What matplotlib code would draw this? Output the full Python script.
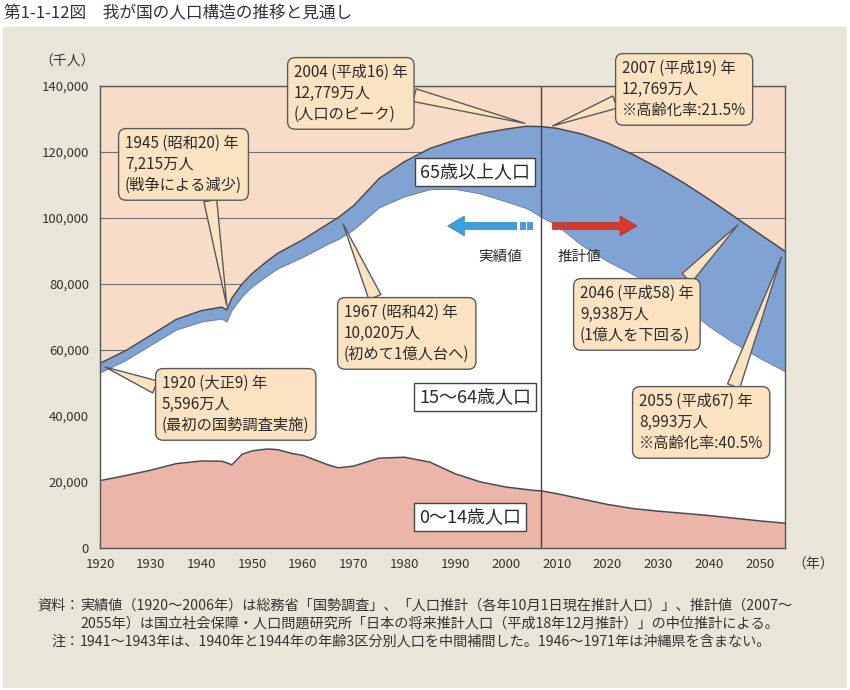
import matplotlib
matplotlib.use("Agg")
import matplotlib.pyplot as plt
from matplotlib.patches import Rectangle, FancyArrow
from matplotlib.ticker import FuncFormatter

plt.rcParams['font.family'] = ['Noto Sans CJK JP', 'DejaVu Sans']

#----------- データ（千人） -----------#
years = [1920, 1925, 1930, 1935, 1940, 1944, 1945, 1946, 1948, 1950,
         1953, 1955, 1958, 1960, 1965, 1967, 1970, 1975, 1980, 1985,
         1990, 1995, 2000, 2004, 2005, 2007, 2010, 2015, 2020, 2025,
         2030, 2035, 2040, 2045, 2046, 2050, 2055]
# 総人口（1946～1971年は沖縄県を含まない）
total = [55963, 59737, 64450, 69254, 71933, 73000, 72147, 75750, 80002, 83200,
         86981, 89276, 91767, 93419, 98275, 100196, 103720, 111940, 117060, 121049,
         123611, 125570, 126926, 127787, 127768, 127692, 127176, 125430, 122735, 119270,
         115224, 110679, 105695, 100443, 99380, 95152, 89930]
# 0～14歳
young = [20416, 21924, 23579, 25545, 26369, 26300, 25800, 25200, 28400, 29428,
         30000, 29798, 28600, 28067, 25166, 24300, 24823, 27221, 27507, 26033,
         22486, 20014, 18472, 17734, 17521, 17293, 16479, 14841, 13201, 11956,
         11150, 10512, 9833, 9036, 8870, 8214, 7516]
# 65歳以上
old = [2941, 3021, 3064, 3225, 3454, 3600, 3700, 3750, 3900, 4109,
       4500, 4747, 5100, 5350, 6181, 6700, 7331, 8865, 10647, 12468,
       14895, 18261, 22005, 24876, 25672, 27464, 29412, 33781, 35899, 36354,
       36670, 37249, 38527, 38407, 38200, 37641, 36463]

work_top = [t - o for t, o in zip(total, old)]

x_ticks = list(range(1920, 2051, 10))
y_ticks = list(range(0, 140001, 20000))

# 吹き出し: 文字, 指す点(年, 千人), 箱の左上(px), 付け根の位置
callouts = [
    ("1945 (昭和20) 年\n7,215万人\n(戦争による減少)", (1945.0, 73300), (118, 128), (0.72, 0.0)),
    ("2004 (平成16) 年\n12,779万人\n(人口のピーク)", (2003.7, 128700), (287, 57), (1.0, 0.5)),
    ("2007 (平成19) 年\n12,769万人\n※高齢化率:21.5%", (2009.2, 127900), (615, 53), (0.0, 0.33)),
    ("1967 (昭和42) 年\n10,020万人\n(初めて1億人台へ)", (1967.9, 98200), (337, 297), (0.27, 1.0)),
    ("1920 (大正9) 年\n5,596万人\n(最初の国勢調査実施)", (1921.0, 54850), (155, 368), (0.0, 0.75)),
    ("2046 (平成58) 年\n9,938万人\n(1億人を下回る)", (2045.7, 97900), (573, 278), (0.88, 1.0)),
    ("2055 (平成67) 年\n8,993万人\n※高齢化率:40.5%", (2054.3, 88200), (632, 386), (0.74, 1.0)),
]

#----------- 色 -----------#
C_BG = '#e9e5d8'
C_PEACH = '#f8dcc7'
C_BLUE = '#80a3d3'
C_PINK = '#ecb5a9'
C_BOX = '#fbe3c2'
C_TXT = '#2b2b2b'

W, H = 850, 690
fig = plt.figure(figsize=(8.5, 6.9), dpi=100, facecolor='white')

def fx(px):
    return px / W

def fy(py):
    return 1 - py / H

# 背景パネル
fig.patches.append(Rectangle((fx(3), fy(688)), fx(847) - fx(3), fy(27) - fy(688),
                             transform=fig.transFigure, facecolor=C_BG,
                             edgecolor='none', zorder=-1))

ax = fig.add_axes([fx(100), fy(548), fx(785) - fx(100), fy(86) - fy(548)])
ax.set_facecolor(C_PEACH)
ax.set_xlim(1920, 2055)
ax.set_ylim(0, 140000)

ax.set_axisbelow(True)
ax.yaxis.grid(True, color='#707070', lw=0.8)

ax.fill_between(years, 0, total, color=C_BLUE, lw=0, zorder=2)
ax.fill_between(years, 0, work_top, color='white', lw=0, zorder=3)
ax.fill_between(years, 0, young, color=C_PINK, lw=0, zorder=4)
ax.plot(years, total, color='#4a4a4a', lw=1.1, zorder=5)
ax.plot(years, young, color='#4a4a4a', lw=1.1, zorder=5)
ax.plot(years, work_top, color='#6a80a8', lw=0.6, zorder=5)

ax.axvline(2007, color='#444444', lw=1, zorder=6)

for s in ax.spines.values():
    s.set_color('#555555')
    s.set_linewidth(1)
    s.set_zorder(6)

ax.set_xticks(x_ticks)
ax.set_yticks(y_ticks)
ax.yaxis.set_major_formatter(FuncFormatter(lambda v, p: '{:,}'.format(int(v))))
ax.tick_params(axis='x', direction='in', length=4, color='#444444',
               labelsize=9.5, labelcolor='#333333', pad=7)
ax.tick_params(axis='y', length=0, labelsize=9.5, labelcolor='#333333', pad=8)

#----------- 実績値 / 推計値 の矢印 -----------#
ya = 97600
ax.add_patch(FancyArrow(2002.1, ya, -13.6, 0, width=2100, head_width=6000,
                        head_length=3.3, length_includes_head=True,
                        fc='#3d9ee0', ec='#3a7fb5', lw=0.5, zorder=7))
for x0 in (2002.7, 2004.1):
    ax.add_patch(Rectangle((x0, ya - 1050), 1.0, 2100, fc='#3d9ee0',
                           ec='#3a7fb5', lw=0.5, zorder=7))
ax.add_patch(FancyArrow(2011.6, ya, 14.2, 0, width=2100, head_width=6000,
                        head_length=3.3, length_includes_head=True,
                        fc='#d93a2c', ec='#a8302a', lw=0.5, zorder=7))
for x0 in (2009.0, 2010.2):
    ax.add_patch(Rectangle((x0, ya - 1050), 1.0, 2100, fc='#d93a2c',
                           ec='#a8302a', lw=0.5, zorder=7))

ax.text(fx(500), fy(257), '実績値', transform=fig.transFigure, ha='center',
        va='center', fontsize=10.5, color=C_TXT, zorder=9)
ax.text(fx(580), fy(257), '推計値', transform=fig.transFigure, ha='center',
        va='center', fontsize=10.5, color=C_TXT, zorder=9)

#----------- 区分ラベル -----------#
lab_box = dict(boxstyle='square,pad=0.3', fc='white', ec='#444444', lw=1)
for txt, cx, cy in [('65歳以上人口', 475, 172), ('15～64歳人口', 475, 397),
                    ('0～14歳人口', 470, 517)]:
    ax.text(fx(cx), fy(cy), txt, transform=fig.transFigure, ha='center',
            va='center', fontsize=13, color=C_TXT, bbox=lab_box, zorder=9)

#----------- 吹き出し -----------#
for txt, xy, bpx, rel in callouts:
    ax.annotate(txt, xy=xy, xycoords='data',
                xytext=(fx(bpx[0] + 7), fy(bpx[1] + 7)), textcoords='figure fraction',
                ha='left', va='top', fontsize=11, linespacing=1.3, color=C_TXT,
                bbox=dict(boxstyle='round,pad=0.42,rounding_size=0.5', fc=C_BOX,
                          ec='#5a5a5a', lw=1),
                arrowprops=dict(arrowstyle='wedge,tail_width=0.85', fc=C_BOX,
                                ec='#5a5a5a', lw=1, relpos=rel,
                                shrinkA=0, shrinkB=0),
                zorder=10, annotation_clip=False)

#----------- 文字 -----------#
fig.text(fx(4), fy(14), '第1-1-12図　我が国の人口構造の推移と見通し',
         ha='left', va='center', fontsize=12, color='#333333')
fig.text(fx(67), fy(62), '（千人）', ha='center', va='center', fontsize=10,
         color='#333333')
fig.text(fx(792), fy(565), '（年）', ha='left', va='center', fontsize=10,
         color='#333333')

note_size = 10.2
fig.text(fx(80), fy(606), '資料：', ha='right', va='center', fontsize=note_size, color='#333333')
fig.text(fx(80), fy(606),
         '実績値（1920～2006年）は総務省「国勢調査」、「人口推計（各年10月1日現在推計人口）」、推計値（2007～',
         ha='left', va='center', fontsize=note_size, color='#333333')
fig.text(fx(80), fy(624),
         '2055年）は国立社会保障・人口問題研究所「日本の将来推計人口（平成18年12月推計）」の中位推計による。',
         ha='left', va='center', fontsize=note_size, color='#333333')
fig.text(fx(80), fy(642), '注：', ha='right', va='center', fontsize=note_size, color='#333333')
fig.text(fx(80), fy(642),
         '1941～1943年は、1940年と1944年の年齢3区分別人口を中間補間した。1946～1971年は沖縄県を含まない。',
         ha='left', va='center', fontsize=note_size, color='#333333')

fig.savefig('out.png', dpi=100, facecolor=fig.get_facecolor())
